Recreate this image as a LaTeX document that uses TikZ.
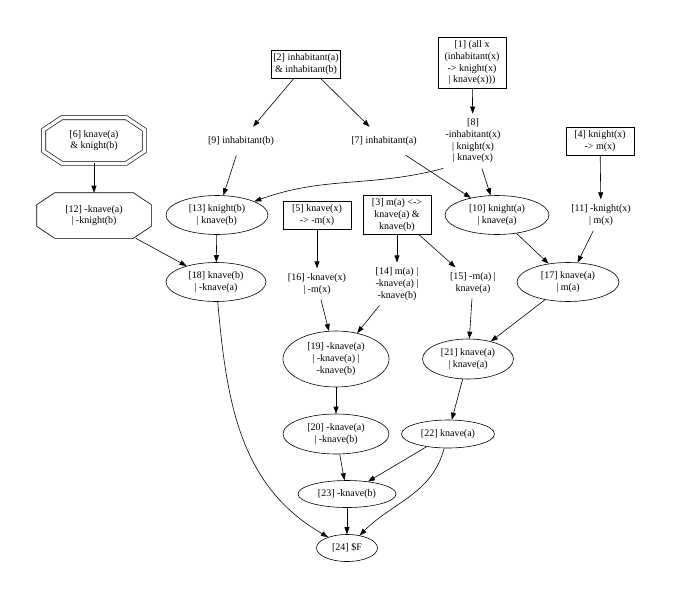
\documentclass[tikz,border=0pt]{standalone}
\usepackage{fontspec}
\setmainfont{Liberation Serif}
\usetikzlibrary{arrows.meta,calc,shapes.geometric}

\newcommand{\octagonat}[2][]{%
  \draw[#1] ($(#2.north west)+(18pt,0pt)$) -- ($(#2.north east)+(-18pt,0pt)$)
  -- ($(#2.north east)+(0pt,-12pt)$) -- ($(#2.south east)+(0pt,12pt)$)
  -- ($(#2.south east)+(-18pt,0pt)$) -- ($(#2.south west)+(18pt,0pt)$)
  -- ($(#2.south west)+(0pt,12pt)$) -- ($(#2.north west)+(0pt,-12pt)$) -- cycle;}

\begin{document}
\begin{tikzpicture}[x=1pt,y=1pt,line width=0.6pt,>={Triangle[length=7pt,width=5pt]},
  font=\fontsize{10}{11.7}\selectfont,
  box/.style={draw,align=center,inner xsep=2pt,inner ysep=3.5pt,minimum width=68pt},
  plain/.style={align=center,inner xsep=2pt,inner ysep=5pt,minimum height=28pt},
  oval/.style 2 args={ellipse,draw,align=center,inner sep=0pt,minimum width=#1pt,minimum height=#2pt},
  octo/.style 2 args={align=center,inner sep=0pt,minimum width=#1pt,minimum height=#2pt}]
        \useasboundingbox (0,0) rectangle (677,-600);
        % premises and first steps
        \node[box] (n2) at (306,-64) {[2] inhabitant(a)\\\& inhabitant(b)};
        \node[box] (n1) at (472,-63) {[1] (all x\\(inhabitant(x)\\-> knight(x)\\| knave(x)))};
        \node[octo={100}{45}] (n6) at (94,-140.5) {[6] knave(a)\\\& knight(b)};
        \octagonat[double,double distance=3.4pt]{n6}
        \node[plain] (n9) at (241,-141) {[9] inhabitant(b)};
        \node[plain] (n7) at (384,-141) {[7] inhabitant(a)};
        \node[plain] (n8) at (473,-141) {[8]\\-inhabitant(x)\\| knight(x)\\| knave(x)};
        \node[box] (n4) at (600,-141) {[4] knight(x)\\-> m(x)};
        \node[octo={114}{45}] (n12) at (94,-215.5) {[12] -knave(a)\\| -knight(b)};
        \octagonat{n12}
        \node[oval={102}{39}] (n13) at (217,-215) {[13] knight(b)\\| knave(b)};
        \node[box] (n5) at (317,-215) {[5] knave(x)\\-> -m(x)};
        \node[box] (n3) at (397,-215) {[3] m(a) <->\\knave(a) \&\\knave(b)};
        \node[oval={104}{39}] (n10) at (497,-215) {[10] knight(a)\\| knave(a)};
        \node[plain] (n11) at (601,-215) {[11] -knight(x)\\| m(x)};
        % resolution steps
        \node[oval={100}{39}] (n18) at (216,-282) {[18] knave(b)\\| -knave(a)};
        \node[plain] (n16) at (317,-284) {[16] -knave(x)\\| -m(x)};
        \node[plain] (n14) at (397,-284) {[14] m(a) |\\-knave(a) |\\-knave(b)};
        \node[plain] (n15) at (473,-283) {[15] -m(a) |\\knave(a)};
        \node[oval={102}{39}] (n17) at (568,-282) {[17] knave(a)\\| m(a)};
        \node[oval={106}{56}] (n19) at (336,-359) {[19] -knave(a)\\| -knave(a) |\\-knave(b)};
        \node[oval={91}{40}] (n21) at (468,-359) {[21] knave(a)\\| knave(a)};
        \node[oval={106}{40}] (n20) at (336,-434) {[20] -knave(a)\\| -knave(b)};
        \node[oval={93}{28}] (n22) at (448,-434) {[22] knave(a)};
        \node[oval={98}{27}] (n23) at (347,-494) {[23] -knave(b)};
        \node[oval={61}{27}] (n24) at (347,-548) {[24] \$F};
        % edges
        \draw[->] (n2) -- (n9);
        \draw[->] (n2) -- (n7);
        \draw[->] (n1) -- (n8);
        \draw[->] (n6) -- (n12);
        \draw[->] (n9) -- (n13);
        \draw[->] (n8.south west) to[out=195,in=20] (n13);
        \draw[->] (n7) -- (n10);
        \draw[->] (n8) -- (n10);
        \draw[->] (n4) -- (n11);
        \draw[->] (n12) -- (n18);
        \draw[->] (n13) -- (n18);
        \draw[->] (n5) -- (n16);
        \draw[->] (n3) -- (n14);
        \draw[->] (n3) -- (n15);
        \draw[->] (n10) -- (n17);
        \draw[->] (n11) -- (n17);
        \draw[->] (n16) -- (n19);
        \draw[->] (n14) -- (n19);
        \draw[->] (n15) -- (n21);
        \draw[->] (n17) -- (n21);
        \draw[->] (n19) -- (n20);
        \draw[->] (n21) -- (n22);
        \draw[->] (n20) -- (n23);
        \draw[->] (n22) -- (n23);
        \draw[->] (n23) -- (n24);
        \draw[->] (n18) to[out=-85,in=150] (n24);
        \draw[->] (n22) to[out=-105,in=45] (n24);
\end{tikzpicture}
\end{document}
